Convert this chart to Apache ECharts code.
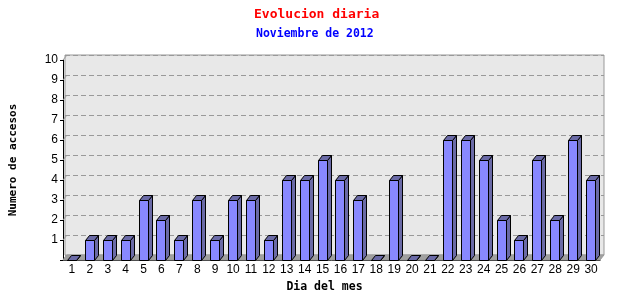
<!DOCTYPE html>
<html>
<head>
<meta charset="utf-8">
<script src="https://cdn.jsdelivr.net/npm/echarts@6/dist/echarts.min.js"></script>
<style>
  html, body { margin: 0; padding: 0; background: #fff; }
  #chart { width: 640px; height: 300px; }
</style>
</head>
<body>
<div id="chart"></div>
<script>
// Datos
const dias = ['1', '2', '3', '4', '5', '6', '7', '8', '9', '10',
  '11', '12', '13', '14', '15', '16', '17', '18', '19', '20',
  '21', '22', '23', '24', '25', '26', '27', '28', '29', '30']
const accesos = [0, 1, 1, 1, 3, 2, 1, 3, 1, 3,
  3, 1, 4, 4, 5, 4, 3, 0, 4, 0,
  0, 6, 6, 5, 2, 1, 5, 2, 6, 4]
const yTicks = [0, 1, 2, 3, 4, 5, 6, 7, 8, 9, 10]

// profundidad 3D
const DX = 4
const DY = -5

const chart = echarts.init(document.getElementById('chart'))

const mono = 'DejaVu Sans Mono'
// ajusta al pixel para lineas nitidas
const px = (v) => Math.round(v) + 0.5

chart.setOption({
  animation: false,
  title: [{
    text: 'Evolucion diaria',
    left: 249,
    top: 3,
    textStyle: { fontFamily: mono, fontWeight: 'bold', fontSize: 13, color: '#ff0000' },
  }, {
    text: 'Noviembre de 2012',
    left: 251,
    top: 23,
    textStyle: { fontFamily: mono, fontWeight: 'bold', fontSize: 11.5, color: '#0000ff' },
  }],
  grid: [{
    // frente
    left: 61, right: 40, top: 60, bottom: 40,
  }, {
    // pared del fondo
    show: true,
    left: 61 + DX, right: 40 - DX, top: 60 + DY, bottom: 40 - DY,
    backgroundColor: '#e8e8e8',
    borderColor: '#999999',
    borderWidth: 1,
  }],
  xAxis: [{
    type: 'category',
    gridIndex: 0,
    data: dias,
    name: 'Dia del mes',
    nameLocation: 'middle',
    nameGap: 14,
    nameTextStyle: { fontFamily: mono, fontWeight: 'bold', fontSize: 11.5, color: '#000', padding: [0, 14, 0, 0] },
    axisLine: { lineStyle: { color: '#000' } },
    axisTick: { length: 4, lineStyle: { color: '#000' } },
    axisLabel: { interval: 0, margin: 4, color: '#000', fontFamily: 'Liberation Sans', fontSize: 12 },
  }, {
    type: 'category',
    gridIndex: 1,
    data: dias,
    show: false,
  }],
  yAxis: [{
    type: 'value',
    gridIndex: 0,
    min: 0,
    max: 10,
    interval: 1,
    name: 'Numero de accesos',
    nameLocation: 'middle',
    nameGap: 44,
    nameTextStyle: { fontFamily: mono, fontWeight: 'bold', fontSize: 11, color: '#000' },
    axisLine: { show: true, lineStyle: { color: '#000' } },
    axisTick: { show: true, length: 3, lineStyle: { color: '#000' } },
    axisLabel: {
      margin: 5,
      color: '#000',
      fontFamily: 'Liberation Sans',
      fontSize: 12,
      formatter: (v) => (v === 0 ? '' : v),
    },
    splitLine: { show: false },
  }, {
    type: 'value',
    gridIndex: 1,
    min: 0,
    max: 10,
    interval: 1,
    axisLine: { show: false },
    axisTick: { show: false },
    axisLabel: { show: false },
    splitLine: { lineStyle: { color: '#999999', type: [5, 3] } },
  }],
  series: [{
    // suelo y uniones de la rejilla
    type: 'custom',
    xAxisIndex: 0,
    yAxisIndex: 0,
    z: 1,
    silent: true,
    data: [[0]],
    renderItem(params, api) {
      const band = api.size([1, 0])[0]
      const a = api.coord([0, 0])
      const b = api.coord([dias.length - 1, 0])
      const l = a[0] - band / 2
      const r = b[0] + band / 2
      const y = a[1]
      const children = [{
        type: 'polygon',
        shape: { points: [[l, y], [r, y], [r + DX, y + DY], [l + DX, y + DY]] },
        style: { fill: '#a0a0a0', stroke: '#999999', lineWidth: 1 },
      }]
      yTicks.forEach((t) => {
        const p = api.coord([0, t])
        children.push({
          type: 'line',
          shape: { x1: l, y1: p[1], x2: l + DX, y2: p[1] + DY },
          style: { stroke: '#999999', lineWidth: 1 },
        })
      })
      return { type: 'group', children }
    },
  }, {
    name: 'accesos',
    type: 'custom',
    xAxisIndex: 0,
    yAxisIndex: 0,
    z: 3,
    data: accesos.map((v, i) => [i, v]),
    renderItem(params, api) {
      const band = api.size([1, 0])[0]
      const base = api.coord([api.value(0), 0])
      const top = api.coord([api.value(0), api.value(1)])
      const w = Math.round(band * 0.53)
      const l = px(base[0] - w / 2 - 0.5)
      const r = l + w
      const y0 = px(base[1])
      const y1 = px(top[1])
      const line = { stroke: '#000', lineWidth: 1 }
      return {
        type: 'group',
        children: [{
          type: 'polygon',
          shape: { points: [[r, y0], [r + DX, y0 + DY], [r + DX, y1 + DY], [r, y1]] },
          style: Object.assign({ fill: '#6a6aa6' }, line),
        }, {
          type: 'polygon',
          shape: { points: [[l, y1], [r, y1], [r + DX, y1 + DY], [l + DX, y1 + DY]] },
          style: Object.assign({ fill: '#6a6aa6' }, line),
        }, {
          type: 'rect',
          shape: { x: l, y: y1, width: w, height: y0 - y1 },
          style: Object.assign({ fill: '#8888ff' }, line),
        }],
      }
    },
  }],
})
</script>
</body>
</html>
